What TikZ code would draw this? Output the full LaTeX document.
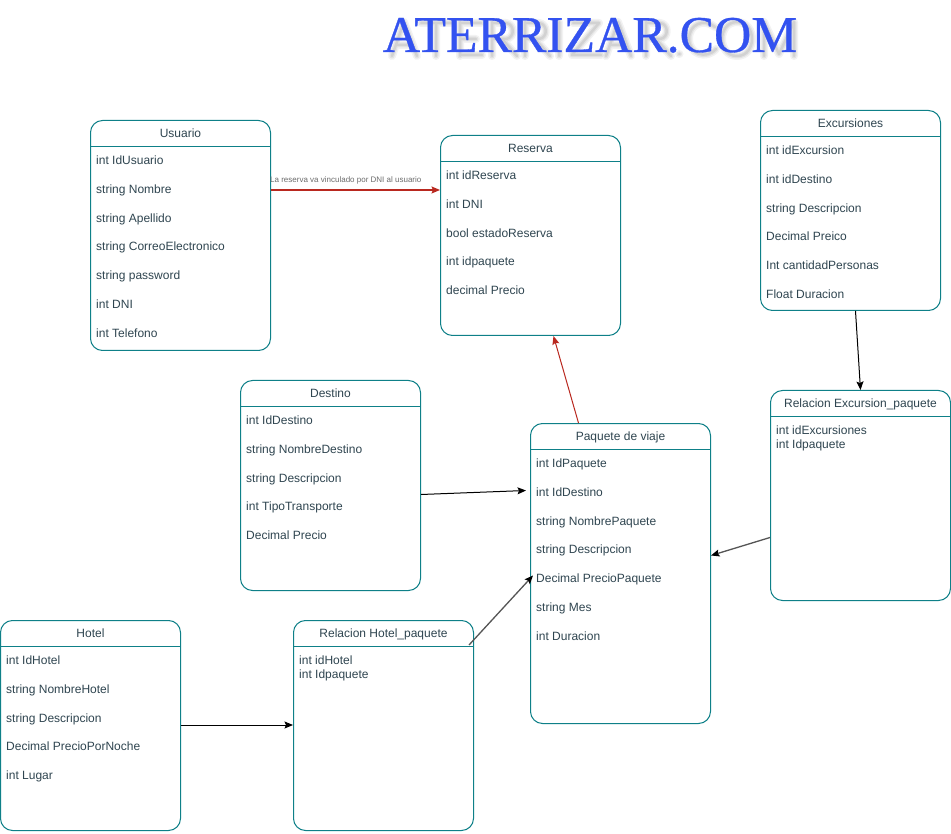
\documentclass[tikz,border=0pt]{standalone}
\usepackage{fontspec}
\setmainfont{Liberation Sans}
\newfontfamily\titlefont[FakeBold=0.6]{Liberation Serif}
\usetikzlibrary{arrows.meta,calc}
\definecolor{teal1}{HTML}{0E8088}
\definecolor{ink}{HTML}{2F4550}
\definecolor{titleblue}{HTML}{3352F0}
\definecolor{redline}{HTML}{B9281F}
\definecolor{darkline}{HTML}{555555}
\newcommand{\entity}[7]{% name,x,y,w,h,title,rows
  \node[entbox,minimum width=#4pt,minimum height=#5pt+1pt] (#1) at (#2-0.5+#4/2,#3+#5/2) {};
  \node[enttitle] (#1-t) at (#2-0.5+#4/2,#3+16.5) {#6};
  \draw[teal1,line width=1pt] ([yshift=-26.5pt]#1.north west) -- ([yshift=-26.5pt]#1.north east);
  \foreach \txt [count=\i from 0] in {#7} {
    \node[entrow] (#1-\i) at (#2+5,#3+43.5+\i*28.8) {\txt};
  }
}
% soft shadow strokes of the heading letters
\newcommand{\shA}[1]{(#1+5,52)--(#1+17,18)--(#1+30,52) (#1+10,41)--(#1+24,41)}
\newcommand{\shR}[1]{(#1+6,18)--(#1+6,52) (#1+6,19)--(#1+20,19) .. controls (#1+29,20) and (#1+29,34) .. (#1+20,35)--(#1+6,35) (#1+16,35)--(#1+31,52)}
\tikzset{
  x=1pt,y=-1pt,
  entbox/.style={draw=teal1,line width=1pt,rounded corners=12pt,fill=white,inner sep=0pt},
  enttitle/.style={text=ink,font=\fontsize{12}{14}\selectfont,inner sep=0pt,anchor=base},
  entrow/.style={text=ink,font=\fontsize{12}{14}\selectfont,anchor=base west,inner sep=0pt},
  multirow/.style={text=ink,font=\fontsize{12}{14}\selectfont,anchor=base west,inner sep=0pt,align=left},
  redarrow/.style={draw=redline,line width=#1,-{Stealth[length=8.5pt,width=7pt,inset=1.5pt]}},
  blackarrow/.style={draw=black,line width=1pt,-{Stealth[length=8.5pt,width=7pt,inset=1.5pt]}},
  grayarrow/.style={draw=darkline,line width=1.3pt,-{Stealth[length=8.5pt,width=7pt,inset=1.5pt,color=black]}},
  toptitle/.style={text=titleblue,font=\titlefont\fontsize{51.6}{56}\selectfont,inner sep=0pt,anchor=base},
  softshadow/.style={draw=black,line cap=round,line join=round,opacity=#1},
  linklabel/.style={text=gray!85!black,font=\fontsize{8}{9}\selectfont,inner sep=0pt,anchor=base west}
}
\newcommand{\heading}{%
  \shA{383} (417,19)--(447,19) (432,19)--(432,52)
  (456,18)--(456,52) (456,19)--(477,19) (456,35)--(472,35) (456,51)--(478,51)
  \shR{482} \shR{515}
  (555,18)--(555,52)
  (569,19)--(595,19)--(568,51)--(597,51)
  \shA{597} \shR{636}
  (675,50)--(675.5,50)
  (711,23) .. controls (700,14) and (685,20) .. (685,35) .. controls (685,50) and (702,56) .. (712,45)
  (733,18) .. controls (713,18) and (713,52) .. (733,52) .. controls (753,52) and (753,18) .. (733,18)
  (760,52)--(760,18)--(775,50)--(790,18)--(790,52)
}
\begin{document}
\begin{tikzpicture}
\useasboundingbox (0,0) rectangle (951,834);
\fill[white] (0,0) rectangle (951,834);
\begin{scope}[xshift=4pt,yshift=-4pt]
  \draw[softshadow=0.05,line width=8pt] \heading;
  \draw[softshadow=0.06,line width=5pt] \heading;
  \draw[softshadow=0.07,line width=2.5pt] \heading;
\end{scope}
\node[toptitle] (title) at (590,52) {ATERRIZAR.COM};

\entity{usuario}{91}{121}{180}{229}{Usuario}{int IdUsuario,string Nombre,string Apellido,string CorreoElectronico,string password,int DNI,int Telefono}
\entity{reserva}{441}{136}{180}{199}{Reserva}{int idReserva,int DNI,bool estadoReserva,int idpaquete,decimal Precio}
\entity{excursiones}{761}{111}{180}{199}{Excursiones}{int idExcursion,int idDestino,string Descripcion,Decimal Preico,Int cantidadPersonas,Float Duracion}
\entity{destino}{241}{381}{180}{209}{Destino}{int IdDestino,string NombreDestino,string Descripcion,int TipoTransporte,Decimal Precio}
\entity{paquete}{531}{424}{180}{299}{Paquete de viaje}{int IdPaquete,int IdDestino,string NombrePaquete,string Descripcion,Decimal PrecioPaquete,string Mes,int Duracion}
\entity{relexc}{771}{391}{180}{209}{Relacion Excursion\_paquete}{}
\entity{hotel}{1}{621}{180}{209}{Hotel}{int IdHotel,string NombreHotel,string Descripcion,Decimal PrecioPorNoche,int Lugar}
\entity{relhot}{294}{621}{180}{209}{Relacion Hotel\_paquete}{}

\node[multirow] (relexc-a) at (776,434) {int idExcursiones};
\node[multirow] (relexc-b) at (776,448) {int Idpaquete};
\node[multirow] (relhot-a) at (299,664) {int idHotel};
\node[multirow] (relhot-b) at (299,678) {int Idpaquete};

\draw[redarrow=1.3pt] ([yshift=-70pt]usuario.north east) -- ([yshift=-55pt]reserva.north west);
\node[linklabel] (dnilabel) at (270,183) {La reserva va vinculado por DNI al usuario};
\draw[redarrow=1pt] ([xshift=48.5pt]paquete.north west) -- ([xshift=113.5pt]reserva.south west);
\draw[blackarrow] ([yshift=-114.5pt]destino.north east) -- ([xshift=-4pt,yshift=-67.5pt]paquete.north west);
\draw[grayarrow] ([xshift=-5pt,yshift=-25pt]relhot.north east) -- ([xshift=3pt,yshift=-152.5pt]paquete.north west);
\draw[grayarrow] ([yshift=-147.5pt]relexc.north west) -- ([yshift=-132.5pt]paquete.north east);
\draw[blackarrow] ([xshift=95.5pt]excursiones.south west) -- (relexc.north);
\draw[blackarrow] ([yshift=-105pt]hotel.north east) -- ([yshift=-105pt]relhot.north west);
\end{tikzpicture}
\end{document}
